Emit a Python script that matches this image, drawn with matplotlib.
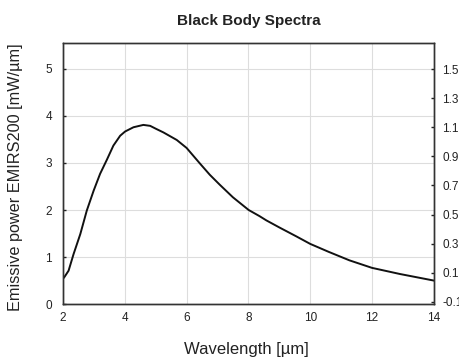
import matplotlib
matplotlib.use("Agg")
import matplotlib.pyplot as plt

plt.rcParams['font.family'] = ['Liberation Sans', 'DejaVu Sans']

# curve (wavelength in um, power in mW/um)
wavelength = [2.0, 2.04, 2.18, 2.34, 2.56, 2.77, 2.99, 3.2, 3.42, 3.63, 3.85,
              4.01, 4.28, 4.6, 4.82, 5.0, 5.25, 5.68, 6.0, 6.43, 6.75, 7.07,
              7.5, 8.01, 8.36, 8.58, 9.0, 9.55, 10.0, 10.6, 11.27, 12.0, 12.9,
              14.0]
power = [0.54, 0.57, 0.71, 1.06, 1.49, 1.99, 2.41, 2.77, 3.07, 3.37, 3.58,
         3.67, 3.76, 3.81, 3.79, 3.73, 3.65, 3.49, 3.32, 2.99, 2.75, 2.54,
         2.27, 2.0, 1.87, 1.78, 1.63, 1.44, 1.28, 1.11, 0.93, 0.77, 0.64,
         0.50]

x_ticks = [2, 4, 6, 8, 10, 12, 14]
y_ticks = [0, 1, 2, 3, 4, 5]
right_ticks = [-0.1, 0.1, 0.3, 0.5, 0.7, 0.9, 1.1, 1.3, 1.5]

fig = plt.figure(figsize=(4.6, 3.59), dpi=100)
ax = fig.add_axes([0.137, 0.153, 0.806, 0.727])

ax.plot(wavelength, power, color='#111111', linewidth=1.4)

ax.set_xlim(2, 14)
ax.set_ylim(0, 5.55)
ax.set_xticks(x_ticks)
ax.set_yticks(y_ticks)
ax.grid(True, color='#dddddd', linewidth=0.8)
ax.set_axisbelow(True)

for s in ax.spines.values():
    s.set_color('#333333')
    s.set_linewidth(1.0)

ax.tick_params(axis='x', length=0, pad=6, labelsize=8.5, colors='#222222')
ax.tick_params(axis='y', direction='in', length=2.5, width=1, pad=8,
               labelsize=8.5, colors='#222222')

ax2 = ax.twinx()
ax2.set_ylim(-0.116, 1.68)
ax2.set_yticks(right_ticks)
ax2.set_yticklabels([f'{v:.1f}' for v in right_ticks])
ax2.tick_params(axis='y', direction='in', length=2.5, width=1, pad=6,
                labelsize=8.5, colors='#222222')
for s in ax2.spines.values():
    s.set_color('#333333')
    s.set_linewidth(1.0)

ax.set_title('Black Body Spectra', fontsize=11, fontweight='bold',
             color='#222222', pad=0, y=1.07)
ax.set_xlabel('Wavelength [µm]', fontsize=12, color='#222222')
ax.xaxis.set_label_coords(0.495, -0.145)
ax.set_ylabel('Emissive power EMIRS200 [mW/µm]', fontsize=11.7, color='#222222')
ax.yaxis.set_label_coords(-0.108, 0.488)

fig.savefig('out.png', dpi=100)
